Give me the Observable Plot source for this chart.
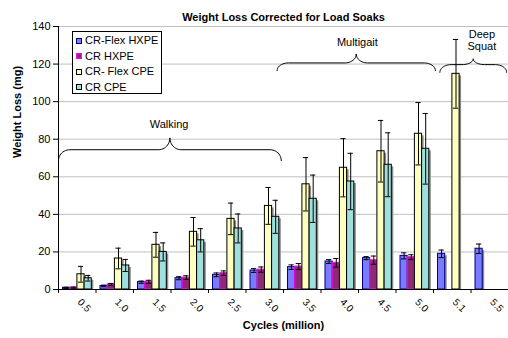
<!DOCTYPE html>
<html><head><meta charset="utf-8">
<script src="https://cdn.jsdelivr.net/npm/d3@7"></script>
<script src="https://cdn.jsdelivr.net/npm/@observablehq/plot@0.6"></script>
<style>
body{margin:0;background:#fff;font-family:"Liberation Sans",Arial,sans-serif;}
#wrap{position:relative;width:508px;height:338px;overflow:hidden;}
#legend{position:absolute;left:72px;top:31px;width:90px;height:63px;border:1px solid #000;background:#fff;box-sizing:border-box;padding-top:1px;}
.item{height:15.5px;display:flex;align-items:center;font-size:11px;line-height:1;color:#000;white-space:nowrap;}
.sw{width:4px;height:4px;margin-left:3px;margin-right:3px;border:1.5px solid;}
</style></head><body><div id="wrap"><div id="chart"></div><div id="legend"></div></div>
<script>
// ---- data ----
const cycles = ["0.5","1.0","1.5","2.0","2.5","3.0","3.5","4.0","4.5","5.0","5.1","5.5"];
const seriesNames = ["CR-Flex HXPE","CR HXPE","CR- Flex CPE","CR CPE"];
const flexHXPE    = [0.9, 1.9, 3.9, 6.0, 7.8, 10.1, 11.9, 14.9, 16.7, 17.9, 19.0, 21.7];
const flexHXPEerr = [0.3, 0.4, 0.6, 0.8, 1.0, 1.0, 1.2, 1.0, 0.8, 1.6, 2.0, 2.5];
const crHXPE      = [1.0, 2.7, 4.1, 6.3, 8.7, 10.6, 12.2, 14.2, 15.6, 17.2, null, null];
const crHXPEerr   = [0.3, 0.5, 0.8, 1.0, 1.2, 1.4, 1.6, 2.3, 2.2, 1.3, null, null];
const flexCPE     = [8.1, 16.5, 23.8, 30.7, 37.6, 44.5, 56.0, 64.8, 73.6, 82.9, 114.8, null];
const flexCPEerr  = [4.2, 5.5, 6.6, 7.6, 8.4, 9.8, 14.2, 15.5, 16.4, 16.6, 18.3, null];
const crCPE       = [6.0, 12.8, 20.0, 26.2, 32.5, 38.7, 48.3, 57.5, 66.4, 74.9, null, null];
const crCPEerr    = [1.5, 3.2, 4.8, 6.2, 7.7, 8.8, 12.6, 15.0, 17.0, 18.8, null, null];
const yTicks = [0, 20, 40, 60, 80, 100, 120, 140];
const phaseLabels = ["Walking", "Multigait", "Deep\nSquat"];

// ---- styles / layout ----
const values = [flexHXPE, crHXPE, flexCPE, crCPE];
const errs = [flexHXPEerr, crHXPEerr, flexCPEerr, crCPEerr];
const fills = ["#7b7bff", "#8e2a73", "#ffffc0", "#a0e0dc"];
const strokes = ["#000080", "#ff00ff", "#000000", "#000000"];
const slotPad = 0.12, slotW = 0.192, capW = 0.07;

// brace annotations (x in group units, y in mg)
const braces = [
  {x0: 0.0, x1: 5.94, yb: 74.4, ye: 68.6, yp: 80.7, lx: 2.95, ly: 88},
  {x0: 5.83, x1: 10.05, yb: 120.6, ye: 116.5, yp: 125.4, lx: 7.97, ly: 131.5},
  {x0: 10.17, x1: 11.95, yb: 119.7, ye: 115.6, yp: 122.8, lx: 11.29, ly: 132.8}
];
function bracePoints(b, id) {
  const rx = 0.3, n = 12, xm = (b.x0 + b.x1) / 2;
  const left = [];
  for (let j = 0; j <= n; j++) { const t = Math.PI - j / n * Math.PI / 2;
    left.push([b.x0 + rx + rx * Math.cos(t), b.ye + (b.yb - b.ye) * Math.sin(t)]); }
  for (let j = 0; j <= n; j++) { const t = -Math.PI / 2 + j / n * Math.PI / 2;
    left.push([xm - rx + rx * Math.cos(t), b.yp + (b.yp - b.yb) * Math.sin(t)]); }
  const right = left.slice().reverse().map(([x, y]) => [2 * xm - x, y]);
  return left.concat(right).map(([x, y]) => ({x, y, id}));
}
const bracePts = braces.flatMap((b, i) => bracePoints(b, i));
const braceLabels = braces.map((b, i) => ({x: b.lx, y: b.ly, t: phaseLabels[i]}));

const rowsBy = seriesNames.map((s, k) => {
  const out = [];
  cycles.forEach((c, i) => {
    const v = values[k][i]; if (v == null) return;
    const x1 = i + slotPad + k * slotW;
    out.push({cycle: c, series: s, v, e: errs[k][i], x1, x2: x1 + slotW, xc: x1 + slotW / 2});
  });
  return out;
});
const allRows = rowsBy.flat();

const marks = [
  Plot.gridY(yTicks.filter(d => d > 0), {stroke: "#c0c0c0", strokeOpacity: 1}),
  Plot.rectY(allRows, {x1: "x1", x2: "x2", y: "v", fill: "#8a8a8a", dx: 2, dy: 2, insetBottom: 2}),
];
rowsBy.forEach((rows, k) => {
  marks.push(Plot.rectY(rows, {x1: "x1", x2: "x2", y: "v", fill: fills[k], stroke: strokes[k], strokeWidth: 1}));
});
marks.push(
  Plot.ruleX(allRows, {x: "xc", y1: d => d.v - d.e, y2: d => d.v + d.e, stroke: "#000", strokeWidth: 1}),
  Plot.ruleY(allRows, {y: d => d.v + d.e, x1: d => d.xc - capW, x2: d => d.xc + capW, stroke: "#000"}),
  Plot.ruleY(allRows, {y: d => d.v - d.e, x1: d => d.xc - capW, x2: d => d.xc + capW, stroke: "#000"}),
  Plot.ruleX([0], {stroke: "#000"}),
  Plot.ruleY([0], {stroke: "#000"}),
  Plot.axisY({ticks: yTicks, tickSize: 5, tickPadding: 3, fontSize: 11, label: null}),
  Plot.axisX({ticks: d3.range(0, cycles.length + 1), tickSize: 4, tickFormat: () => "", label: null}),
  Plot.axisX({ticks: cycles.map((c, i) => i + 0.5), tickFormat: d => cycles[Math.round(d - 0.5)], tickSize: 0, tickPadding: 11, tickRotate: 45, fontSize: 10, label: null, dx: 2}),
  Plot.line(bracePts, {x: "x", y: "y", z: "id", stroke: "#000", strokeWidth: 1}),
  Plot.text(braceLabels, {x: "x", y: "y", text: "t", fontSize: 11, lineHeight: 1.1}),
  Plot.text(["Weight Loss Corrected for Load Soaks"], {frameAnchor: "top", dy: -13, fontWeight: "bold", fontSize: 11}),
  Plot.text(["Weight Loss (mg)"], {frameAnchor: "left", dx: -41, rotate: -90, fontWeight: "bold", fontSize: 11}),
  Plot.text(["Cycles (million)"], {frameAnchor: "bottom", dy: 39, fontWeight: "bold", fontSize: 11})
);

const chart = Plot.plot({
  width: 508, height: 338,
  marginTop: 26, marginBottom: 49, marginLeft: 58, marginRight: 0,
  x: {domain: [0, cycles.length], axis: null},
  y: {domain: [0, 140], axis: null},
  style: {fontFamily: "'Liberation Sans', Arial, sans-serif", fontSize: "11px", background: "#fff", color: "#000", overflow: "visible"},
  marks
});
document.getElementById("chart").appendChild(chart);

const legend = document.getElementById("legend");
seriesNames.forEach((s, k) => {
  const it = document.createElement("div"); it.className = "item";
  const sw = document.createElement("span"); sw.className = "sw";
  sw.style.background = fills[k]; sw.style.borderColor = strokes[k];
  it.appendChild(sw); it.appendChild(document.createTextNode(s));
  legend.appendChild(it);
});
</script></body></html>
